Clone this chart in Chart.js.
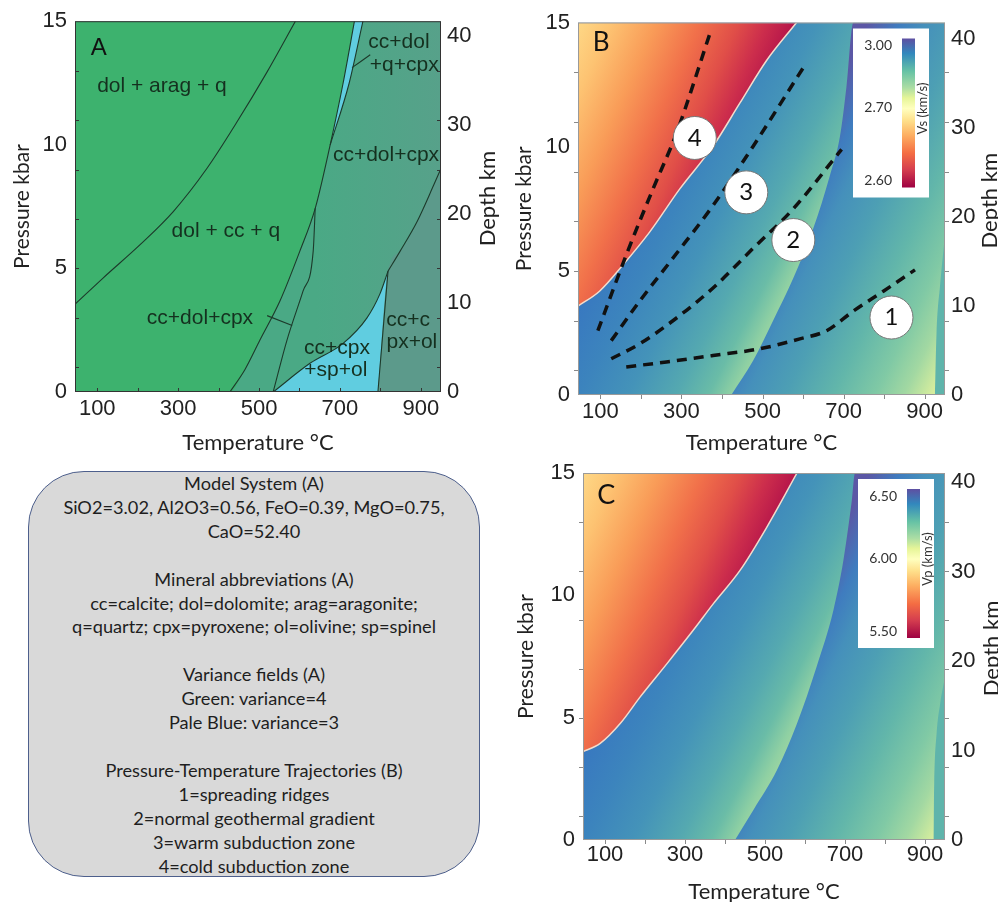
<!DOCTYPE html>
<html>
<head>
<meta charset="utf-8">
<script src="https://cdn.jsdelivr.net/npm/chart.js@4.4.1/dist/chart.umd.min.js"></script>
<style>
  html, body { margin: 0; padding: 0; background: #fff; width: 998px; height: 902px; overflow: hidden; position: relative; }
  .panel { position: absolute; }
  #note {
    position: absolute; left: 28px; top: 471px; width: 452px; height: 406px;
    box-sizing: border-box; background: #d9d9d9; border: 1.5px solid #4d5f8c; border-radius: 56px;
    font: 18.2px Lato, sans-serif; line-height: 23.9px; text-align: center; color: #1e1e1e;
  }
</style>
</head>
<body>
<div class="panel" style="left:0;top:0;width:500px;height:470px"><canvas id="chartA"></canvas></div>
<div class="panel" style="left:500px;top:0;width:502px;height:470px"><canvas id="chartB"></canvas></div>
<div class="panel" style="left:500px;top:450px;width:504px;height:470px"><canvas id="chartC"></canvas></div>
<div id="note">
  <div>Model System (A)</div>
  <div>SiO2=3.02, Al2O3=0.56, FeO=0.39, MgO=0.75,</div>
  <div>CaO=52.40</div>
  <div>&nbsp;</div>
  <div>Mineral abbreviations (A)</div>
  <div>cc=calcite; dol=dolomite; arag=aragonite;</div>
  <div>q=quartz; cpx=pyroxene; ol=olivine; sp=spinel</div>
  <div>&nbsp;</div>
  <div>Variance fields (A)</div>
  <div>Green: variance=4</div>
  <div>Pale Blue: variance=3</div>
  <div>&nbsp;</div>
  <div>Pressure-Temperature Trajectories (B)</div>
  <div>1=spreading ridges</div>
  <div>2=normal geothermal gradient</div>
  <div>3=warm subduction zone</div>
  <div>4=cold subduction zone</div>
</div>
<script>
// axis ticks
const tempTicks = [100, 300, 500, 700, 900];
const pressTicks = [0, 5, 10, 15];
const depthTicks = [0, 10, 20, 30, 40];
const minorTemp = [100, 200, 300, 400, 500, 600, 700, 800, 900];
const minorPress = [1, 3, 5, 7, 9, 11, 13];

// whole P-T window
const fullArea = [[45, 0], [950, 0], [950, 15], [45, 15]];

// panel A: phase boundaries [T degC, P kbar]
const aragLine = [[45, 3.55], [115, 4.62], [206, 5.96], [288, 7.30], [371, 9.04], [445, 10.91], [519, 12.92], [590, 15]];
const cpxLine = [[428, 0], [465, 0.9], [502, 2.09], [552, 3.69], [601, 5.70], [639, 7.43], [676, 10.0], [708, 12.5], [736, 15]];
const sliverEdge = [[676, 10.0], [723, 12.5], [757, 15]];
const l3Line = [[535, 0], [569, 2.09], [609, 4.09], [634, 5.70], [639, 7.43]];
const spinelEdge = [[535, 0], [626, 1.16], [708, 1.97], [767, 3.0], [799, 3.97], [819, 4.89]];
const olLine = [[794, 0], [819, 4.89]];
const l5Line = [[819, 4.89], [849, 5.7], [891, 6.9], [932, 8.37], [950, 9.04]];
const pointerLow = [[520, 3.09], [582, 2.69]];
const pointerHigh = [[730, 13.12], [775, 13.64]];

// panel A field names and anchors
const fieldNames = ['dol + arag + q', 'dol + cc + q', 'cc+dol+cpx', 'cc+dol+cpx', 'cc+dol', '+q+cpx', 'cc+c', 'px+ol', 'cc+cpx', '+sp+ol'];
const fieldAt = [[260, 12.39], [418, 6.50], [354, 2.97], [814, 9.59], [846, 14.16], [859, 13.24], [869, 2.89], [878, 2.0], [693, 1.76], [690, 0.88]];

// panel B: Vs field boundaries
const redEdgeB = [[45, 3.58], [98, 4.18], [156, 5.24], [222, 6.57], [296, 8.30], [378, 10.02], [444, 11.75], [510, 13.47], [584, 15]];
const jumpB = [[423, 0], [477, 1.39], [526, 2.99], [576, 4.71], [625, 6.70], [666, 8.83], [691, 10.42], [707, 12.41], [724, 15]];
const edgeB = [[925, 0], [929, 2.46], [938, 4.45], [950, 6.44]];

// panel B: P-T trajectories
const traj1 = [[164, 1.13], [263, 1.33], [378, 1.59], [493, 1.86], [592, 2.26], [658, 2.59], [724, 3.38], [798, 4.18], [876, 5.04]];
const traj2 = [[127, 1.46], [197, 2.06], [279, 2.99], [378, 4.31], [477, 5.91], [576, 7.50], [695, 9.89]];
const traj3 = [[127, 2.19], [197, 3.78], [279, 5.51], [378, 7.63], [477, 10.02], [604, 13.27]];
const traj4 = [[94, 2.59], [164, 5.64], [230, 8.30], [288, 10.55], [370, 14.54]];
const trajNames = ['1', '2', '3', '4'];
const trajMarks = [[818, 3.12], [576, 6.24], [460, 8.16], [333, 10.35]];

// panel C: Vp field boundaries
const redEdgeC = [[45, 3.61], [88, 3.95], [138, 4.76], [188, 5.85], [255, 7.21], [321, 8.58], [371, 9.66], [438, 11.03], [505, 12.80], [580, 15]];
const jumpC = [[425, 0], [471, 1.23], [530, 2.86], [580, 4.76], [629, 7.08], [671, 9.39], [696, 11.43], [717, 13.88], [725, 15]];
const edgeC = [[921, 0], [923, 2.31], [929, 4.36], [938, 5.58], [950, 6.67]];

// colour bar labels
const vsLabels = ['3.00', '2.70', '2.60'];
const vpLabels = ['6.50', '6.00', '5.50'];

const pts = arr => arr.map(([x, y]) => ({x, y}));

// gradient in data coordinates
function grad(stops, x0, y0, x1, y1) {
    return (c) => {
        const ch = c.chart;
        if (!ch.chartArea) return 'rgba(0,0,0,0)';
        const {x, y} = ch.scales;
        const g = ch.ctx.createLinearGradient(x.getPixelForValue(x0), y.getPixelForValue(y0), x.getPixelForValue(x1), y.getPixelForValue(y1));
        stops.forEach(([o, col]) => g.addColorStop(o, col));
        return g;
    };
}

// plain rectangle behind everything
function box(points, color, order) {
    return {data: pts(points), showLine: true, fill: 'shape', backgroundColor: color,
        borderColor: 'rgba(0,0,0,0)', borderWidth: 0, pointRadius: 0, tension: 0, order: order};
}

// area between a boundary curve and the bottom ('start') or top ('end')
function band(points, color, fill, order, edge, width) {
    return {data: pts(points), showLine: true, fill: fill, backgroundColor: color,
        borderColor: edge || 'rgba(0,0,0,0)', borderWidth: width || 0, pointRadius: 0,
        tension: 0.4, cubicInterpolationMode: 'monotone', order: order};
}

function curve(points, color, width, order, dash) {
    return {data: pts(points), showLine: true, fill: false, borderColor: color, borderWidth: width,
        borderDash: dash || [], pointRadius: 0, tension: 0.4, cubicInterpolationMode: 'monotone', order: order};
}

const spectral = [[0, '#5e4fa2'], [0.1, '#3288bd'], [0.22, '#66c2a5'], [0.33, '#abdda4'], [0.4, '#e6f598'],
    [0.47, '#ffffbf'], [0.55, '#fee08b'], [0.65, '#fdae61'], [0.77, '#f46d43'], [0.88, '#d53e4f'], [1, '#9e0142']];

const leftStops = [[0, '#3878c0'], [0.15, '#3c84bd'], [0.3, '#4493b9'], [0.45, '#55a9b0'], [0.55, '#6abca7'], [0.62, '#8fd0a3'], [0.7, '#b0dea0'], [1, '#c8e89e']];
const rightStops = [[0, '#5b57a5'], [0.1, '#3f7cbf'], [0.18, '#4590bb'], [0.3, '#4d9fb4'], [0.45, '#62b6aa'], [0.58, '#80c9a5'], [0.67, '#a2d8a2'], [0.75, '#d3ec9e'], [0.8, '#e4f39c'], [1, '#e8f5a0']];
const redStops = [[0, '#fed886'], [0.15, '#fdc372'], [0.35, '#f99c58'], [0.55, '#f1704a'], [0.72, '#e04e48'], [0.85, '#cc2d4c'], [1, '#b0104a']];

const overlay = {
    id: 'overlay',
    afterDatasetsDraw(chart, args, o) {
        const {ctx, chartArea: a, scales: {x, y}} = chart;
        ctx.save();
        // minor ticks
        ctx.strokeStyle = o.tickColor;
        ctx.lineWidth = 1;
        const d = o.inward ? -4 : 4;
        ctx.beginPath();
        minorTemp.forEach(v => {
            const px = Math.round(x.getPixelForValue(v)) + 0.5;
            ctx.moveTo(px, a.bottom); ctx.lineTo(px, a.bottom + d);
        });
        minorPress.forEach(v => {
            const py = Math.round(y.getPixelForValue(v)) + 0.5;
            ctx.moveTo(a.left, py); ctx.lineTo(a.left - d, py);
            ctx.moveTo(a.right, py); ctx.lineTo(a.right + d, py);
        });
        ctx.stroke();
        // frame
        ctx.strokeStyle = o.frameColor;
        ctx.strokeRect(a.left + 0.5, a.top + 0.5, a.width - 1, a.height - 1);
        // colour bar
        if (o.bar) {
            const b = o.bar;
            ctx.fillStyle = '#fff';
            ctx.fillRect(a.left + 275, a.top + 6, 76, 169);
            const gx = a.left + 324, gy = a.top + 16, gh = 149;
            const g = ctx.createLinearGradient(0, gy, 0, gy + gh);
            spectral.forEach(([s, c]) => g.addColorStop(s, c));
            ctx.fillStyle = g;
            ctx.fillRect(gx, gy, 13, gh);
            ctx.font = '14px Lato, sans-serif';
            ctx.fillStyle = '#333';
            ctx.textAlign = 'right';
            ctx.textBaseline = 'middle';
            const at = [0, 0.46, 1];
            b.labels.forEach((s, i) => ctx.fillText(s, a.left + 314, gy + 7 + at[i] * (gh - 14)));
            ctx.save();
            ctx.translate(a.left + 345, a.top + 86);
            ctx.rotate(-Math.PI / 2);
            ctx.textAlign = 'center';
            ctx.font = '13px Lato, sans-serif';
            ctx.fillText(b.title, 0, 0);
            ctx.restore();
        }
        // depth axis title, reading upwards
        ctx.save();
        ctx.translate(chart.width - 12, (a.top + a.bottom) / 2 - 8);
        ctx.rotate(-Math.PI / 2);
        ctx.font = '22px Lato, sans-serif';
        ctx.fillStyle = '#222';
        ctx.textAlign = 'center';
        ctx.textBaseline = 'middle';
        ctx.fillText('Depth km', 0, 0);
        ctx.restore();
        // texts
        (o.texts || []).forEach(t => {
            ctx.font = t.font;
            ctx.fillStyle = t.color;
            ctx.textAlign = 'center';
            ctx.textBaseline = 'middle';
            ctx.fillText(t.text, x.getPixelForValue(t.x), y.getPixelForValue(t.y));
        });
        ctx.restore();
    }
};

const tickFont = {family: '"Liberation Sans", Arial, sans-serif', size: 22};

function scalesFor(p) {
    return {
        x: {
            type: 'linear', min: 45, max: 950,
            afterBuildTicks: s => { s.ticks = tempTicks.map(v => ({value: v})); },
            afterFit: s => { s.height = p.xh; },
            grid: {display: false, drawTicks: false}, border: {display: false},
            ticks: {padding: p.xp, color: '#222', font: tickFont, maxRotation: 0, autoSkip: false},
            title: {display: true, text: 'Temperature °C', color: '#222', font: {family: 'Lato, sans-serif', size: 22}, padding: {top: 0, bottom: p.xt}}
        },
        y: {
            type: 'linear', position: 'left', min: 0, max: 15,
            afterBuildTicks: s => { s.ticks = pressTicks.map(v => ({value: v})); },
            afterFit: s => { s.width = p.yw; },
            grid: {display: false, drawTicks: false}, border: {display: false},
            ticks: {padding: 8, color: '#222', font: tickFont, autoSkip: false},
            title: {display: true, text: 'Pressure kbar', color: '#222', font: {family: 'Lato, sans-serif', size: 21}, padding: {top: p.yt, bottom: 0}}
        },
        y2: {
            type: 'linear', position: 'right', min: 0, max: p.dmax,
            afterBuildTicks: s => { s.ticks = depthTicks.map(v => ({value: v})); },
            afterFit: s => { s.width = p.rw; },
            grid: {display: false, drawTicks: false}, border: {display: false},
            ticks: {padding: 6, color: '#222', font: tickFont, autoSkip: false},
            title: {display: false}
        }
    };
}

function baseOptions(p, overlayOpts) {
    return {
        responsive: true, maintainAspectRatio: false, animation: false, events: [],
        layout: {padding: {top: p.top, left: 0, right: 0, bottom: 0}},
        scales: scalesFor(p),
        plugins: {legend: {display: false}, tooltip: {enabled: false}, overlay: overlayOpts}
    };
}

// ---------- panel A ----------
const lineA = '#1d3a2b';
const cyan = '#60cde0';
const labelFont = '21px "Liberation Sans", Arial, sans-serif';
const textsA = fieldNames.map((n, i) => ({text: n, x: fieldAt[i][0], y: fieldAt[i][1], font: labelFont, color: '#15301f'}));
textsA.push({text: 'A', x: 104, y: 13.92, font: '24px "Liberation Sans", Arial, sans-serif', color: '#111'});

new Chart(document.getElementById('chartA'), {
    type: 'line',
    data: {datasets: [
        box(fullArea, grad([[0, '#4aa985'], [1, '#57a18a']], 640, 0, 950, 0), 100),
        band(sliverEdge, cyan, 'end', 95),
        band([[45, 0]].concat(cpxLine), '#3db26e', 'end', 90),
        band(spinelEdge, cyan, 'start', 85),
        band(olLine.concat(l5Line.slice(1)), '#5c9a8b', 'start', 80),
        curve(aragLine, lineA, 1.1, 50),
        curve(cpxLine, lineA, 1.1, 49),
        curve(sliverEdge, lineA, 1.1, 48),
        curve(l3Line, lineA, 1.1, 47),
        curve(spinelEdge, lineA, 1.1, 46),
        curve(olLine, lineA, 1.1, 45),
        curve(l5Line, lineA, 1.1, 44),
        curve(pointerLow, lineA, 1.1, 43),
        curve(pointerHigh, lineA, 1.1, 42)
    ]},
    options: baseOptions({top: 18, xh: 78, xp: 4, xt: 14, yw: 75, yt: 10, rw: 59, dmax: 41.67},
        {tickColor: '#333', frameColor: '#333', inward: true, texts: textsA}),
    plugins: [overlay]
});

// ---------- panels B and C ----------
function fieldSets(redEdge, jump, edge) {
    return [
        box(fullArea, grad(leftStops, -69, 0, 559, -5.23), 100),
        band(jump.concat([[950, 15]]), grad(rightStops, 730, 14, 1374, 8.95), 'start', 90),
        band(edge, '#5fb4ab', 'start', 80),
        band(redEdge, grad(redStops, 45, 15, 504, 11.66), 'end', 70, '#f3dccb', 1.5)
    ];
}

const dash = [10, 7];
const textsB = trajNames.map((n, i) => ({text: n, x: trajMarks[i][0], y: trajMarks[i][1], font: '24px Lato, sans-serif', color: '#111'}));
textsB.push({text: 'B', x: 102, y: 14.2, font: '26px Lato, sans-serif', color: '#111'});

new Chart(document.getElementById('chartB'), {
    type: 'line',
    data: {datasets: fieldSets(redEdgeB, jumpB, edgeB).concat([
        curve(traj1, '#111', 3.5, 50, dash),
        curve(traj2, '#111', 3.5, 49, dash),
        curve(traj3, '#111', 3.5, 48, dash),
        curve(traj4, '#111', 3.5, 47, dash),
        {data: pts(trajMarks), showLine: false, pointRadius: 21.5, pointBackgroundColor: '#fff',
            pointBorderColor: '#777', pointBorderWidth: 1, order: 10}
    ])},
    options: baseOptions({top: 18, xh: 75, xp: 4, xt: 14, yw: 78, yt: 12, rw: 57, dmax: 41.9},
        {tickColor: '#8a8a8a', frameColor: '#9a9a9a', inward: false, texts: textsB,
            bar: {labels: vsLabels, title: 'Vs (km/s)'}}),
    plugins: [overlay]
});

new Chart(document.getElementById('chartC'), {
    type: 'line',
    data: {datasets: fieldSets(redEdgeC, jumpC, edgeC)},
    options: baseOptions({top: 23, xh: 80, xp: 2, xt: 15, yw: 83, yt: 14, rw: 59, dmax: 41.0},
        {tickColor: '#8a8a8a', frameColor: '#9a9a9a', inward: false,
            texts: [{text: 'C', x: 103, y: 14.1, font: '27px Lato, sans-serif', color: '#111'}],
            bar: {labels: vpLabels, title: 'Vp (km/s)'}}),
    plugins: [overlay]
});
</script>
</body>
</html>
